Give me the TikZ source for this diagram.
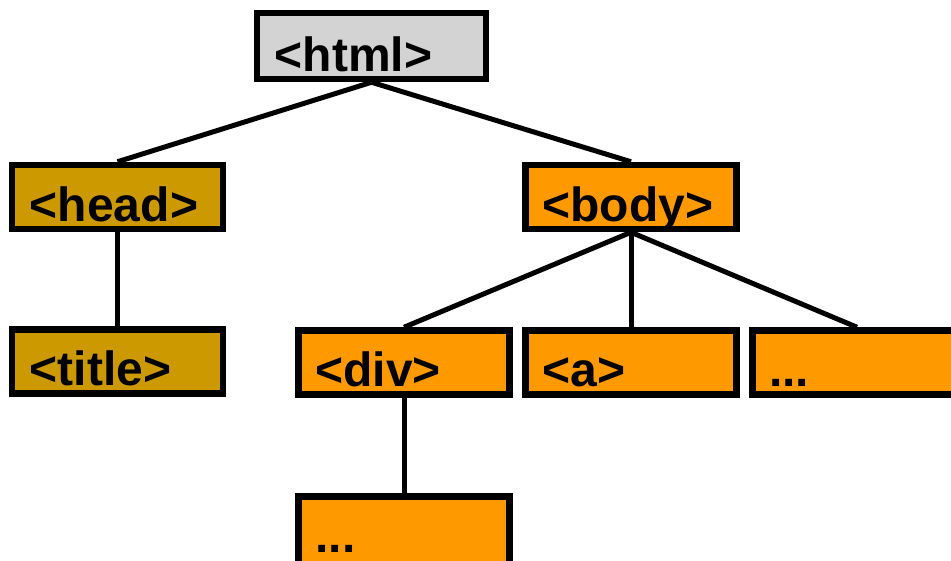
\documentclass[tikz,border=0pt]{standalone}
\usepackage{fontspec}
\setmainfont{Liberation Sans}
\definecolor{htmlgray}{HTML}{D3D3D3}
\definecolor{headgold}{HTML}{CC9900}
\definecolor{bodyorange}{HTML}{FF9900}
\begin{document}
\begin{tikzpicture}[x=1pt,y=-1pt,
  box/.style={draw=black, line width=6.5pt, minimum width=211pt, minimum height=64pt, inner sep=0pt},
  lbl/.style={anchor=base west, inner sep=0pt, text depth=0pt, font=\fontsize{48}{48}\selectfont\bfseries},
  conn/.style={line width=5pt}]
\useasboundingbox (0,0) rectangle (951,560);
\clip (0,0) rectangle (951,560);
% boxes
\node[box, fill=htmlgray, minimum width=229pt, minimum height=66pt] (html) at (371.5,46) {};
\node[box, fill=headgold] (head) at (117.5,197) {};
\node[box, fill=bodyorange] (body) at (631,197) {};
\node[box, fill=headgold] (title) at (117.5,361.5) {};
\node[box, fill=bodyorange] (div) at (404,362.5) {};
\node[box, fill=bodyorange] (a) at (631,362.5) {};
\node[box, fill=bodyorange, minimum width=240pt] (more) at (872.25,362.5) {};
\node[box, fill=bodyorange, minimum height=80pt] (divmore) at (404,536.25) {};
% labels
\node[lbl] (t-html) at ([xshift=21pt,yshift=10.5pt]html.south west) {<html>};
\node[lbl] (t-head) at ([xshift=21pt,yshift=10.5pt]head.south west) {<head>};
\node[lbl] (t-body) at ([xshift=20pt,yshift=10.5pt]body.south west) {<body>};
\node[lbl] (t-title) at ([xshift=21pt,yshift=11pt]title.south west) {<title>};
\node[lbl] (t-div) at ([xshift=20pt,yshift=11pt]div.south west) {<div>};
\node[lbl] (t-a) at ([xshift=20pt,yshift=11pt]a.south west) {<a>};
\node[lbl] (t-more) at ([xshift=20pt,yshift=11pt]more.south west) {...};
\node[lbl] (t-divmore) at ([xshift=20pt,yshift=-59pt]divmore.north west) {...};
% connectors
\draw[conn] (html.south) -- (head.north);
\draw[conn] (html.south) -- (body.north);
\draw[conn] (head.south) -- (title.north);
\draw[conn] (body.south) -- (div.north);
\draw[conn] (body.south) -- (a.north);
\draw[conn] (body.south) -- ([xshift=-15.25pt]more.north);
\draw[conn] (div.south) -- (divmore.north);
\end{tikzpicture}
\end{document}
